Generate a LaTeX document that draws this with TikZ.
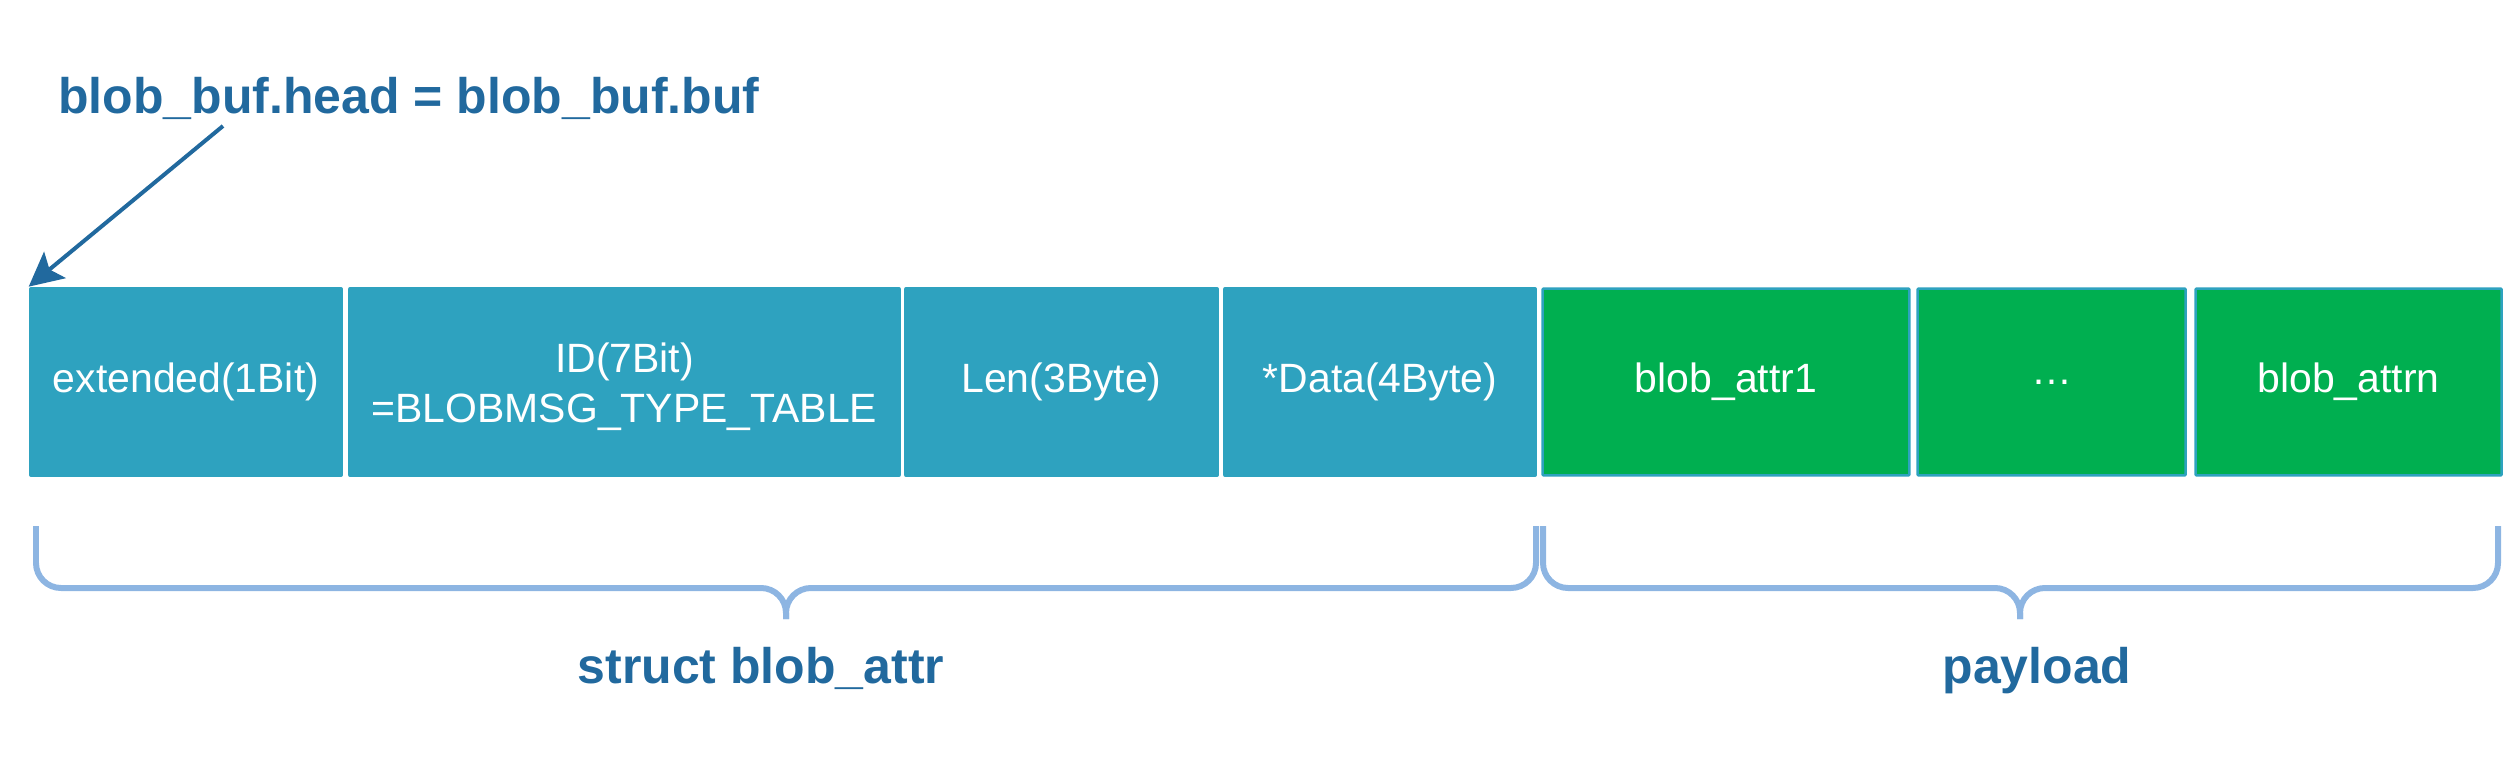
\documentclass[tikz,border=0pt]{standalone}
\usepackage{fontspec}
\setmainfont{Liberation Sans}
\usetikzlibrary{arrows.meta}
\definecolor{teal1}{RGB}{46,162,191}
\definecolor{green1}{RGB}{0,175,80}
\definecolor{navy1}{RGB}{33,105,158}
\definecolor{brace1}{RGB}{141,181,226}
\begin{document}
\begin{tikzpicture}[x=0.02cm,y=-0.02cm,
  field/.style={rectangle,fill=teal1,text=white,minimum height=3.8cm,inner sep=0pt,
    rounded corners=0.04cm,align=center,font=\fontsize{23.3}{28.45}\selectfont},
  payfield/.style={field,fill=green1,draw=teal1,line width=0.05cm,rounded corners=0.02cm},
  title/.style={inner sep=0pt,text=navy1,font=\fontsize{28.45}{34}\selectfont\bfseries},
  bracepath/.style={draw=brace1,line width=0.12cm,rounded corners=0.5cm},
  pointer/.style={draw=navy1,line width=0.08cm,-{Stealth[length=0.68cm,width=0.68cm,inset=0.14cm]}}]
\useasboundingbox (0,0) rectangle (2505,763);
% fields
\node[field,minimum width=6.28cm] (b1) at (186,382) {extended(1Bit)};
\node[field,minimum width=11.06cm] (b2) at (624.5,382) {};
\node[inner sep=0pt,text=white,align=center,font=\fontsize{23.3}{28.45}\selectfont] (b2t) at (624.5,387) {ID(7Bit)\\=BLOBMSG\_TYPE\_TABLE};
\node[field,minimum width=6.30cm] (b3) at (1061.5,382) {Len(3Byte)};
\node[field,minimum width=6.28cm] (b4) at (1380,382) {*Data(4Byte)};
\node[payfield,minimum width=7.34cm,minimum height=3.74cm] (b5) at (1726,382) {blob\_attr1};
\node[payfield,minimum width=5.36cm,minimum height=3.74cm] (b6) at (2051.5,382) {\dots};
\node[payfield,minimum width=6.12cm,minimum height=3.74cm] (b7) at (2348.5,382) {blob\_attrn};
% heading and pointer
\node[title,anchor=base west] (head) at (58,114) {blob\_buf.head = blob\_buf.buf};
\coordinate (a0) at (223,126);
\draw[pointer] (a0) -- (b1.north west);
% braces
\coordinate (t1) at (786,619);
\coordinate (t2) at (2020,619);
\draw[bracepath] (36,526) -- (36,588) -- (786,588) -- (t1);
\draw[bracepath] (1536,526) -- (1536,588) -- (786,588) -- (t1);
\draw[bracepath] (1543,526) -- (1543,588) -- (2020,588) -- (t2);
\draw[bracepath] (2498,526) -- (2498,588) -- (2020,588) -- (t2);
% labels
\node[title,anchor=base] (l1) at (761,683) {struct blob\_attr};
\node[title,anchor=base] (l2) at (2037,683) {payload};
\end{tikzpicture}
\end{document}
